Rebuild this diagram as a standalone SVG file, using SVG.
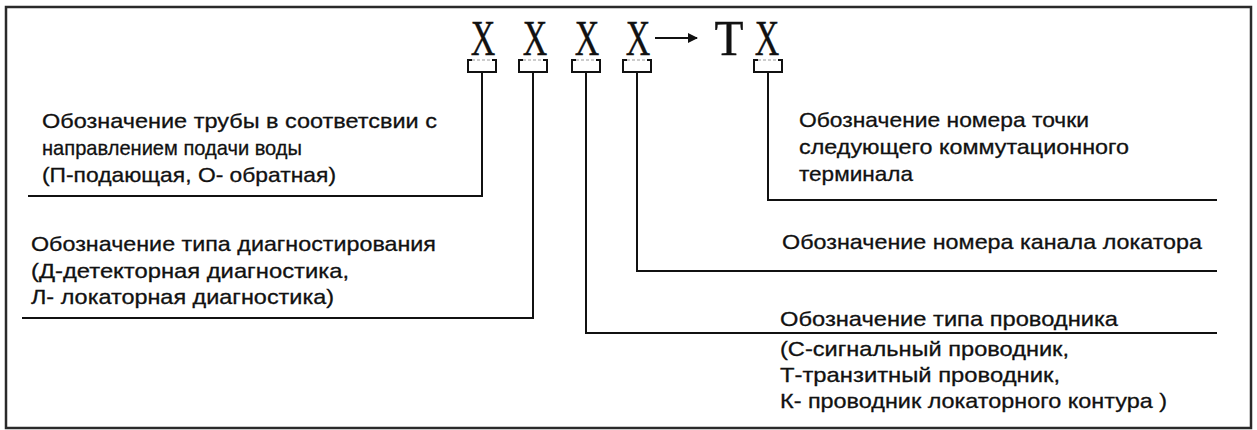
<svg xmlns="http://www.w3.org/2000/svg" width="1257" height="430" viewBox="0 0 1257 430">
  <defs>
    <style>
      .frame { fill: #ffffff; stroke: #2a2a2a; stroke-width: 2.5; }
      .sym { font-family: "Liberation Serif", "Times New Roman", serif; font-size: 50px; fill: #111; stroke: #111; stroke-width: 0.4; text-anchor: middle; }
      .lbl { font-family: "Liberation Sans", Arial, sans-serif; font-size: 21px; fill: #111; stroke: #111; stroke-width: 0.3; }
      .wire { fill: none; stroke: #111; stroke-width: 2; }
      .brk { fill: none; stroke: #111; stroke-width: 2; }
      .brk-top { fill: none; stroke: #999; stroke-width: 1; stroke-dasharray: 3 2; }
    </style>
    <marker id="head" viewBox="0 0 10 10" refX="9" refY="5" markerWidth="5" markerHeight="5" orient="auto" markerUnits="strokeWidth">
      <path d="M0,0 L10,5 L0,10 z" fill="#111"/>
    </marker>
    <!-- bracket under a code position, drawn around x = 0 -->
    <g id="bracket">
      <path class="brk-top" d="M-10,0 H10"/>
      <path class="brk" d="M-10,0 H-14 V12 H14 V0 H10"/>
    </g>
  </defs>

  <rect class="frame" x="6" y="7" width="1245" height="421"/>

  <!-- code string: X X X X -> T X -->
  <g id="code">
    <g id="pos1">
      <text class="sym" transform="translate(483,55) scale(0.68,1)">X</text>
      <use href="#bracket" x="482" y="60"/>
    </g>
    <g id="pos2">
      <text class="sym" transform="translate(535,55) scale(0.68,1)">X</text>
      <use href="#bracket" x="533" y="60"/>
    </g>
    <g id="pos3">
      <text class="sym" transform="translate(587,55) scale(0.68,1)">X</text>
      <use href="#bracket" x="586" y="60"/>
    </g>
    <g id="pos4">
      <text class="sym" transform="translate(638,55) scale(0.68,1)">X</text>
      <use href="#bracket" x="637" y="60"/>
    </g>
    <g id="arrow">
      <line class="wire" x1="655" y1="38" x2="697" y2="38" stroke-width="2.5" marker-end="url(#head)"/>
    </g>
    <g id="posT">
      <text class="sym" transform="translate(729,55) scale(0.95,1)">T</text>
    </g>
    <g id="pos5">
      <text class="sym" transform="translate(767,55) scale(0.68,1)">X</text>
      <use href="#bracket" x="768" y="60"/>
    </g>
  </g>

  <!-- leader lines from each bracket to its description -->
  <g id="connectors">
    <path class="wire" d="M482,72 V196 H28"/>
    <path class="wire" d="M533,72 V318 H22"/>
    <path class="wire" d="M586,72 V333 H1217"/>
    <path class="wire" d="M637,72 V271 H1217"/>
    <path class="wire" d="M768,72 V200 H1217"/>
  </g>

  <g id="pipe-direction">
    <text class="lbl" x="42" y="128" textLength="395" lengthAdjust="spacingAndGlyphs">Обозначение трубы в соответсвии с</text>
    <text class="lbl" x="42" y="155" textLength="260" lengthAdjust="spacingAndGlyphs">направлением подачи воды</text>
    <text class="lbl" x="42" y="182" textLength="294" lengthAdjust="spacingAndGlyphs">(П-подающая, О- обратная)</text>
  </g>

  <g id="diagnostic-type">
    <text class="lbl" x="31" y="251" textLength="405" lengthAdjust="spacingAndGlyphs">Обозначение типа диагностирования</text>
    <text class="lbl" x="31" y="278" textLength="318" lengthAdjust="spacingAndGlyphs">(Д-детекторная диагностика,</text>
    <text class="lbl" x="31" y="304" textLength="303" lengthAdjust="spacingAndGlyphs">Л- локаторная диагностика)</text>
  </g>

  <g id="terminal-point">
    <text class="lbl" x="799" y="127" textLength="290" lengthAdjust="spacingAndGlyphs">Обозначение номера точки</text>
    <text class="lbl" x="799" y="154" textLength="330" lengthAdjust="spacingAndGlyphs">следующего коммутационного</text>
    <text class="lbl" x="799" y="181" textLength="114" lengthAdjust="spacingAndGlyphs">терминала</text>
  </g>

  <g id="locator-channel">
    <text class="lbl" x="782" y="249" textLength="420" lengthAdjust="spacingAndGlyphs">Обозначение номера канала локатора</text>
  </g>

  <g id="conductor-type">
    <text class="lbl" x="780" y="326" textLength="338" lengthAdjust="spacingAndGlyphs">Обозначение типа проводника</text>
    <text class="lbl" x="780" y="356" textLength="289" lengthAdjust="spacingAndGlyphs">(С-сигнальный проводник,</text>
    <text class="lbl" x="780" y="382" textLength="280" lengthAdjust="spacingAndGlyphs">Т-транзитный проводник,</text>
    <text class="lbl" x="780" y="408" textLength="387" lengthAdjust="spacingAndGlyphs">К- проводник локаторного контура )</text>
  </g>
</svg>
